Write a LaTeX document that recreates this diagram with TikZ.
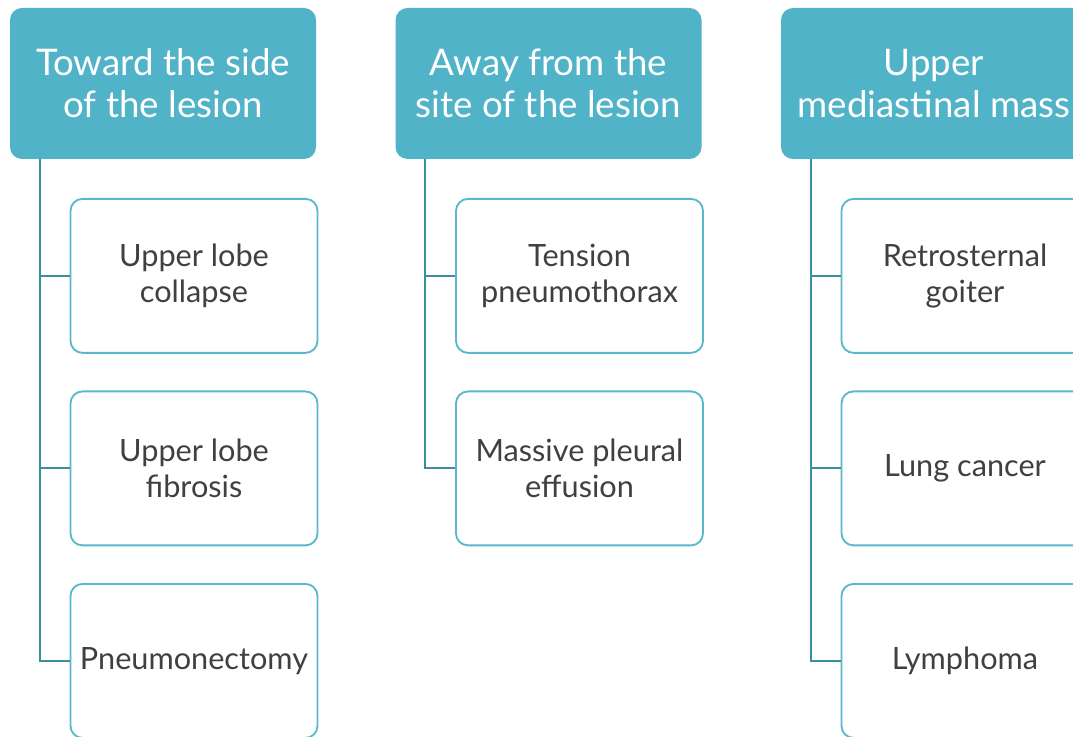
\documentclass[tikz,border=0pt]{standalone}
\usepackage{fontspec}
\setmainfont{Lato}
\usetikzlibrary{positioning}
\definecolor{headteal}{RGB}{81,179,200}
\definecolor{boxteal}{RGB}{90,184,204}
\definecolor{linkteal}{RGB}{58,143,156}
\definecolor{itemgrey}{RGB}{64,64,64}

\begin{document}
\begin{tikzpicture}[x=0.75pt, y=-0.75pt,
                    header/.style = {
                      rectangle, align=center,
                      rounded corners=9pt,
                      minimum width=229.5pt, minimum height=113.25pt,
                      fill=headteal, text=white,
                      font=\fontsize{27.5}{31.5}\selectfont
                    },
                    item/.style = {
                      rectangle, align=center,
                      rounded corners=9pt,
                      minimum width=185.25pt, minimum height=115.5pt,
                      draw=boxteal, line width=1.4pt, fill=white,
                      text=itemgrey,
                      font=\fontsize{23}{26.5}\selectfont
                    },
                    link/.style = {
                      draw=linkteal, line width=1.5pt
                    }]
    \useasboundingbox (0,0) rectangle (1073,737);
    \clip (0,0) rectangle (1073,737);

    % headers
    \node(toward) [header] at (163,83.5) {Toward the side\\of the lesion};
    \node(away)   [header] at (548.5,83.5) {Away from the\\site of the lesion};
    \node(upper)  [header] at (934,83.5) {Upper\\mediastinal mass};

    % first column
    \node(collapse) [item, below=29pt of toward, xshift=23.25pt] {Upper lobe\\collapse};
    \node(fibrosis) [item, below=27.5pt of collapse] {Upper lobe\\fibrosis};
    \node(pneumo)   [item, below=27.5pt of fibrosis] {Pneumonectomy};

    % second column
    \node(tension)  [item, below=29pt of away, xshift=23.25pt] {Tension\\pneumothorax};
    \node(effusion) [item, below=27.5pt of tension] {Massive pleural\\effusion};

    % third column
    \node(goiter)   [item, below=29pt of upper, xshift=23.25pt] {Retrosternal\\goiter};
    \node(cancer)   [item, below=27.5pt of goiter] {Lung cancer};
    \node(lymphoma) [item, below=27.5pt of cancer] {Lymphoma};

    % connectors
    \foreach \head/\kid in {toward/collapse, toward/fibrosis, toward/pneumo,
                            away/tension, away/effusion,
                            upper/goiter, upper/cancer, upper/lymphoma}
      \path[link] ([xshift=22.5pt]\head.south west) |- (\kid.west);
\end{tikzpicture}
\end{document}
